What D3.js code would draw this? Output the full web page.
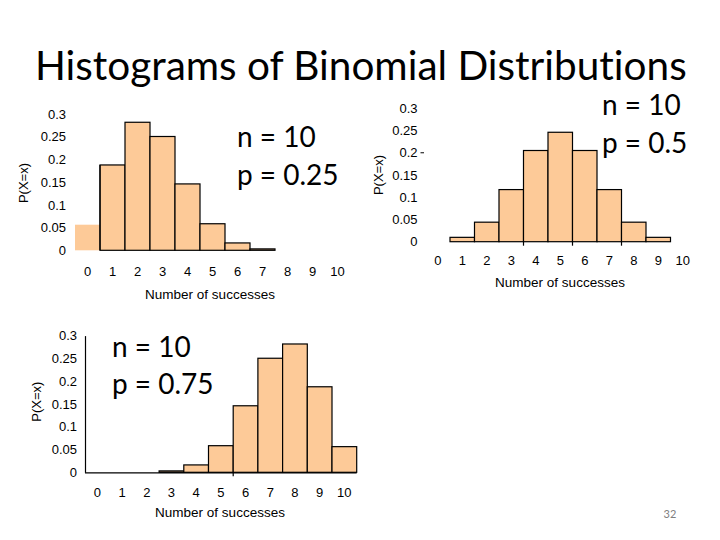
<!DOCTYPE html>
<html><head><meta charset="utf-8">
<script src="https://cdn.jsdelivr.net/npm/d3@7"></script>
<style>
html,body{margin:0;padding:0;background:#fff;}
svg{display:block;}
text{font-variant-ligatures:none;font-feature-settings:"liga" 0;}
.tick text{font-family:"Liberation Sans",Arial,sans-serif;}
</style></head>
<body>
<svg id="c" width="720" height="540"></svg>
<script>
// ---- data ----
const categories = ["0","1","2","3","4","5","6","7","8","9","10"];
const probP25 = [0.0563,0.1877,0.2816,0.2503,0.1460,0.0584,0.0162,0.0031,0.0004,0.0000,0.0000];
const probP50 = [0.0010,0.0098,0.0439,0.1172,0.2051,0.2461,0.2051,0.1172,0.0439,0.0098,0.0010];
const probP75 = [0.0000,0.0000,0.0004,0.0031,0.0162,0.0584,0.1460,0.2503,0.2816,0.1877,0.0563];
const yTickValues = [0,0.05,0.1,0.15,0.2,0.25,0.3];
const yTickLabels = ["0","0.05","0.1","0.15","0.2","0.25","0.3"];
const titleText = "Histograms of Binomial Distributions";
const xTitle = "Number of successes";
const yTitle = "P(X=x)";
const labelsP25 = ["n = 10","p = 0.25"];
const labelsP50 = ["n = 10","p = 0.5"];
const labelsP75 = ["n = 10","p = 0.75"];
const pageNumber = "32";

// ---- layout ----
const panels = [
  {values:probP25, labels:labelsP25, left:75, bw:25, y0:250.3, yTop:113.9, yPad:9, xPad:16,
   axisLines:false, noStrokeFirst:true, ylab:[23,183], xlab:[210,299], txt:[237,146.7,184.5], extraTicks:[]},
  {values:probP50, labels:labelsP50, left:425.5, bw:24.5, y0:241.7, yTop:108.3, yPad:8, xPad:14.5,
   axisLines:false, noStrokeFirst:false, ylab:[378,175], xlab:[560,286.5], txt:[602,115,153], extraTicks:[3,5,7], dash:0.2},
  {values:probP75, labels:labelsP75, left:85, bw:24.7, y0:472.3, yTop:335.6, yPad:8, xPad:15,
   axisLines:true, noStrokeFirst:false, ylab:[36,401.7], xlab:[220,516.5], txt:[112,356.7,394], extraTicks:[5]}
];
const barFill = "#FDCA98";
const svg = d3.select("#c");

svg.append("text").attr("x",35).attr("y",80)
  .attr("font-family","Lato, 'Open Sans', sans-serif").attr("font-size",40.5)
  .attr("fill","#000").text(titleText);

panels.forEach(P => {
  const g = svg.append("g");
  const x = d3.scaleBand().domain(categories).range([P.left, P.left + P.bw*categories.length]).padding(0);
  const y = d3.scaleLinear().domain([0,0.3]).range([P.y0, P.yTop]);

  // bars
  categories.forEach((c,i) => {
    const h = P.y0 - y(P.values[i]);
    if (h < 1) return;
    g.append("rect")
      .attr("x", x(c)).attr("y", y(P.values[i]))
      .attr("width", x.bandwidth()).attr("height", h)
      .attr("fill", barFill)
      .attr("stroke", (P.noStrokeFirst && i===0) ? "none" : "#000")
      .attr("stroke-width", 1.2);
  });
  if (P.noStrokeFirst) {
    g.append("line").attr("x1",x("1")).attr("x2",x("1")).attr("y1",y(P.values[1])).attr("y2",P.y0)
      .attr("stroke","#000").attr("stroke-width",1.2);
  }

  // y axis
  const ya = g.append("g").attr("transform",`translate(${P.left},0)`)
    .call(d3.axisLeft(y).tickValues(yTickValues).tickFormat((d,i)=>yTickLabels[i]).tickSize(0).tickPadding(P.yPad));
  ya.selectAll("text").attr("font-size",13).attr("fill","#000");
  if (!P.axisLines) ya.select(".domain").remove();
  else ya.select(".domain").attr("stroke","#000").attr("stroke-width",1.2);

  // x axis
  const xa = g.append("g").attr("transform",`translate(0,${P.y0})`)
    .call(d3.axisBottom(x).tickSize(0).tickPadding(P.xPad));
  xa.selectAll("text").attr("font-size",13).attr("fill","#000");
  if (!P.axisLines) xa.select(".domain").remove();
  else xa.select(".domain").attr("d",`M${P.left},0.5H${P.left+P.bw*categories.length}`).attr("stroke","#000").attr("stroke-width",1.2);

  // small tick marks at bar boundaries
  P.extraTicks.forEach(k => {
    const xx = x(categories[k]) + x.bandwidth();
    g.append("line").attr("x1",xx).attr("x2",xx).attr("y1",P.y0).attr("y2",P.y0+4)
      .attr("stroke","#000").attr("stroke-width",1.2);
  });
  if (P.dash !== undefined) {
    g.append("line").attr("x1",P.left-5).attr("x2",P.left-1.5).attr("y1",y(P.dash)).attr("y2",y(P.dash))
      .attr("stroke","#000").attr("stroke-width",1);
  }

  // axis titles
  g.append("text").attr("x",P.xlab[0]).attr("y",P.xlab[1]).attr("text-anchor","middle")
    .attr("font-family","'Liberation Sans',Arial,sans-serif").attr("font-size",13.5).text(xTitle);
  g.append("text").attr("transform",`translate(${P.ylab[0]},${P.ylab[1]}) rotate(-90)`)
    .attr("text-anchor","middle").attr("dy","0.35em")
    .attr("font-family","'Liberation Sans',Arial,sans-serif").attr("font-size",13).text(yTitle);

  // n / p annotation
  P.labels.forEach((t,i) => {
    g.append("text").attr("x",P.txt[0]).attr("y",P.txt[1+i])
      .attr("font-family","Lato, 'Open Sans', sans-serif").attr("font-size",28).attr("fill","#000").text(t);
  });
});

svg.append("text").attr("x",670).attr("y",518).attr("text-anchor","middle")
  .attr("font-family","Lato, sans-serif").attr("font-size",11).attr("fill","#7f7f7f").text(pageNumber);
</script>
</body></html>
